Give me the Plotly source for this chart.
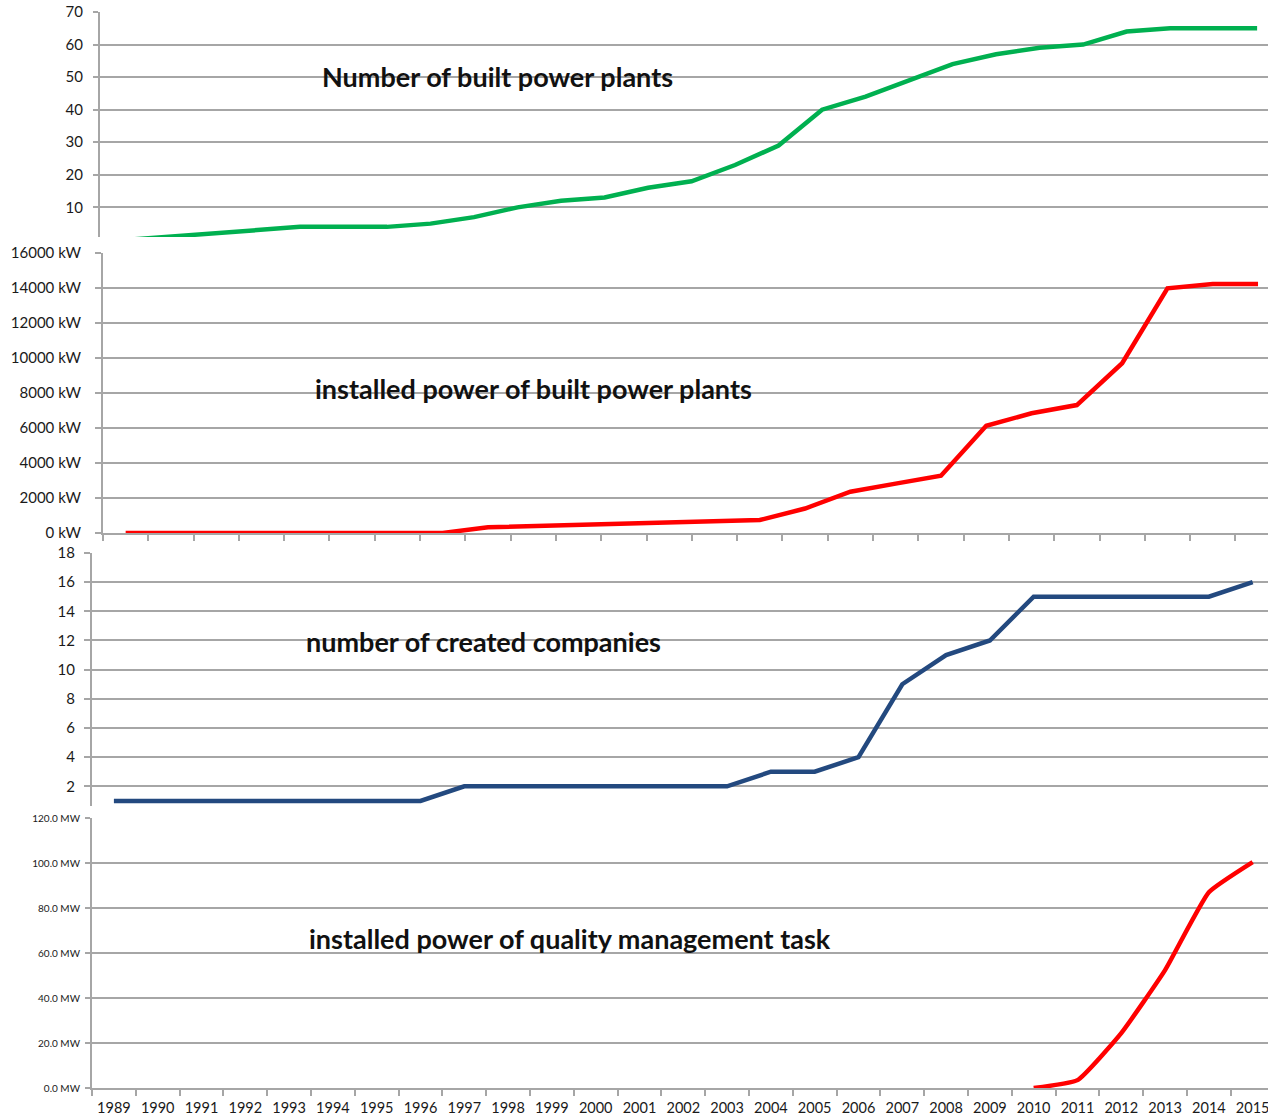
import plotly.graph_objects as go

W, H = 1268, 1120

# ---------------- data ----------------
years = [str(y) for y in range(1989, 2016)]          # panels 1, 3, 4
years_power = [str(y) for y in range(1990, 2016)]    # panel 2

plants = [0, 1, 2, 3, 4, 4, 4, 5, 7, 10, 12, 13, 16, 18, 23, 29, 40, 44, 49, 54,
          57, 59, 60, 64, 65, 65, 65]
power_kw = [0, 0, 0, 0, 0, 0, 0, 0, 330, 400, 470, 540, 600, 670, 740, 1400, 2360,
            2820, 3270, 6130, 6840, 7310, 9700, 13980, 14230, 14230]
companies = [1, 1, 1, 1, 1, 1, 1, 1, 2, 2, 2, 2, 2, 2, 2, 3, 3, 4, 9, 11, 12, 15,
             15, 15, 15, 15, 16]
qm_power_mw = [None] * 21 + [0, 3.5, 24.4, 52.4, 87, 100.4]

titles = ["Number of built power plants",
          "installed power of built power plants",
          "number of created companies",
          "installed power of quality management task"]

GREEN = "#00B050"
RED = "#FF0000"
BLUE = "#23497F"
GRID = "#a6a6a6"
TXT = "#1a1a1a"
FONT = "Lato"


def dx(px):
    return px / W


def dy(py):
    return 1 - py / H


fig = go.Figure()
fig.add_trace(go.Scatter(x=years, y=plants, mode="lines", xaxis="x", yaxis="y",
                         line=dict(color=GREEN, width=4.5), hoverinfo="x+y"))
fig.add_trace(go.Scatter(x=years_power, y=power_kw, mode="lines", xaxis="x2", yaxis="y2",
                         line=dict(color=RED, width=4.5), hoverinfo="x+y"))
fig.add_trace(go.Scatter(x=years, y=companies, mode="lines", xaxis="x3", yaxis="y3",
                         line=dict(color=BLUE, width=4.5), hoverinfo="x+y"))
fig.add_trace(go.Scatter(x=years, y=qm_power_mw, mode="lines", xaxis="x4", yaxis="y4",
                         line=dict(color=RED, width=4.5, shape="spline", smoothing=0.4),
                         connectgaps=False, hoverinfo="x+y"))


def yax(domain, rng, dtick, ticklen, standoff, size, anchor, suffix="", fmt="d"):
    return dict(domain=domain, range=rng, dtick=dtick, tick0=0, anchor=anchor,
                showgrid=True, gridcolor=GRID, gridwidth=2,
                showline=True, linecolor=GRID, linewidth=2,
                ticks="outside", ticklen=ticklen, tickwidth=2, tickcolor=GRID,
                ticklabelstandoff=standoff, zeroline=False,
                tickfont=dict(family=FONT, size=size, color=TXT),
                ticksuffix=suffix, tickformat=fmt, fixedrange=True)


def xax(domain, rng, cats, anchor, ticks="", showline=False, labels=False):
    return dict(domain=domain, range=rng, type="category", categoryorder="array",
                categoryarray=cats, anchor=anchor, showgrid=False, zeroline=False,
                showline=showline, linecolor=GRID, linewidth=2,
                ticks=ticks, tickson="boundaries", ticklen=6, tickwidth=1.5,
                tickcolor=GRID, showticklabels=labels,
                tickfont=dict(family=FONT, size=14.5, color=TXT),
                ticklabelstandoff=6, fixedrange=True)


fig.update_layout(
    width=W, height=H, autosize=False,
    margin=dict(l=0, r=0, t=0, b=0, autoexpand=False),
    paper_bgcolor="white", plot_bgcolor="white",
    showlegend=False,
    xaxis=xax([dx(100), 1], [-0.598, 26.25], years, "y"),
    yaxis=yax([dy(237), dy(12)], [0.89, 70], 10, 5, 7, 15, "x"),
    xaxis2=xax([dx(103), 1], [-0.5, 25.22], years_power, "y2", ticks="outside", showline=True),
    yaxis2=yax([dy(533), dy(253)], [0, 16000], 2000, 6, 11, 15, "x2", suffix=" kW"),
    xaxis3=xax([dx(92), 1], [-0.5, 26.35], years, "y3"),
    yaxis3=yax([dy(806), dy(553)], [0.65, 18], 2, 6, 6, 15, "x3"),
    xaxis4=xax([dx(92), 1], [-0.5, 26.35], years, "y4", ticks="outside", showline=True, labels=True),
    yaxis4=yax([dy(1088), dy(818)], [0, 120], 20, 5, 3, 10, "x4", suffix=" MW", fmt=".1f"),
)

title_pos = [(497, 77), (533, 388), (483, 641), (570, 938)]
for t, (px, py) in zip(titles, title_pos):
    fig.add_annotation(text="<b>%s</b>" % t, xref="paper", yref="paper",
                       x=dx(px), y=dy(py), xanchor="center", yanchor="middle",
                       showarrow=False, font=dict(family=FONT, size=27, color="#111111"))

pin = ("document.documentElement.style.margin='0';document.body.style.margin='0';"
       "document.body.style.overflow='hidden';"
       "var gd=document.getElementsByClassName('plotly-graph-div')[0];"
       "gd.style.position='fixed';gd.style.left='0px';gd.style.top='0px';")
fig.write_html("out.html", post_script=pin, config={"displayModeBar": False})
